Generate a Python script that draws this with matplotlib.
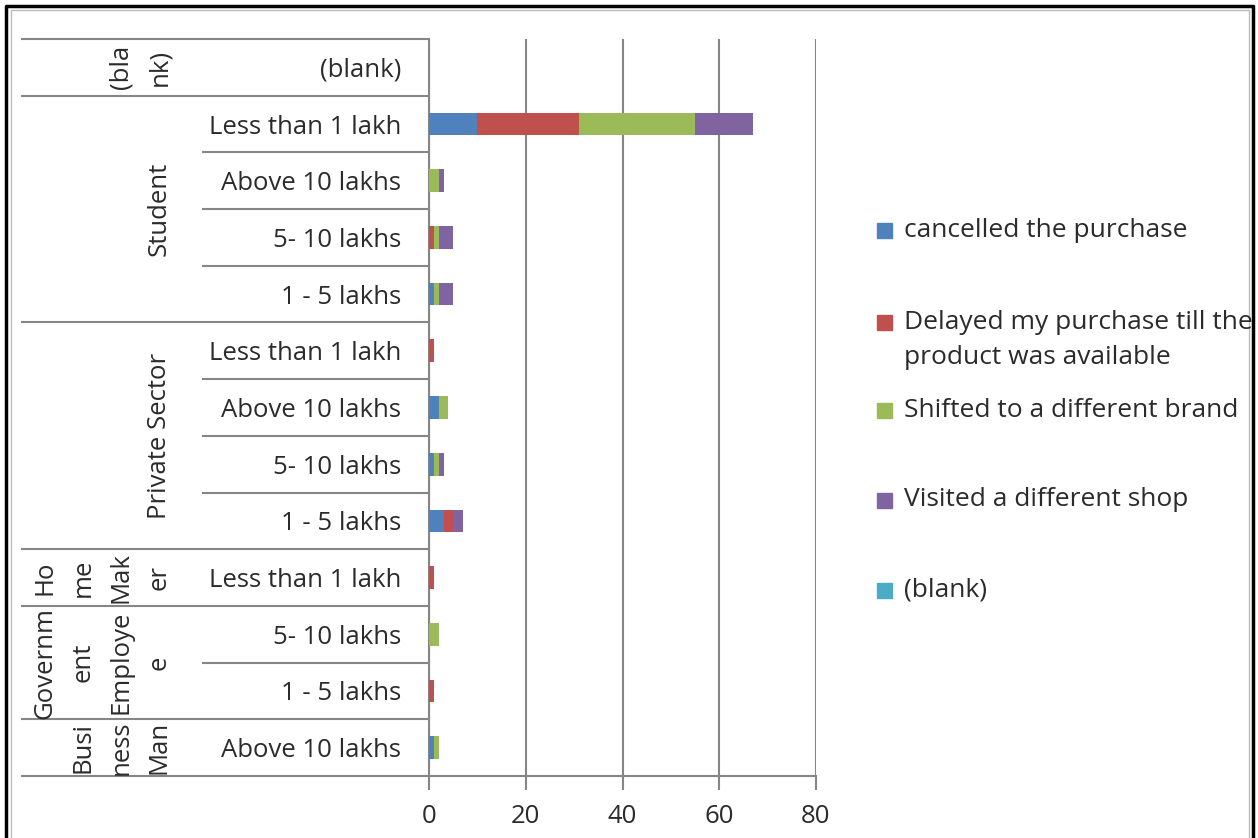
import matplotlib
matplotlib.use("Agg")
import matplotlib.pyplot as plt
import numpy as np
from matplotlib.patches import Rectangle
from matplotlib.lines import Line2D

plt.rcParams['font.family'] = ['Open Sans', 'DejaVu Sans']

# rows listed top to bottom
groups = ["(blank)", "Student", "Private Sector", "Home Maker",
          "Government Employee", "Business Man"]
group_lines = ["(bla\nnk)", "Student", "Private Sector", "Ho\nme\nMak\ner",
               "Governm\nent\nEmploye\ne", "Busi\nness\nMan"]
group_sizes = [1, 4, 4, 1, 2, 1]
incomes = ["(blank)",
           "Less than 1 lakh", "Above 10 lakhs", "5- 10 lakhs", "1 - 5 lakhs",
           "Less than 1 lakh", "Above 10 lakhs", "5- 10 lakhs", "1 - 5 lakhs",
           "Less than 1 lakh",
           "5- 10 lakhs", "1 - 5 lakhs",
           "Above 10 lakhs"]

cancelled = [0, 10, 0, 0, 1, 0, 2, 1, 3, 0, 0, 0, 1]
delayed = [0, 21, 0, 1, 0, 1, 0, 0, 2, 1, 0, 1, 0]
shifted = [0, 24, 2, 1, 1, 0, 2, 1, 0, 0, 2, 0, 1]
visited = [0, 12, 1, 3, 3, 0, 0, 1, 2, 0, 0, 0, 0]
blank = [0] * 13

series_names = ["cancelled the purchase",
                "Delayed my purchase till the\nproduct was available",
                "Shifted to a different brand",
                "Visited a different shop",
                "(blank)"]
series = [cancelled, delayed, shifted, visited, blank]
colors = ["#4F81BD", "#C0504D", "#9BBB59", "#8064A2", "#4BACC6"]

TXT = '#2b2b2b'
FS = 18.5

W, H = 1258, 838
fig = plt.figure(figsize=(W / 100, H / 100), dpi=100)

# plot area in pixels
x0, x1, y0, y1 = 429, 816, 39, 776
ax = fig.add_axes([x0 / W, 1 - y1 / H, (x1 - x0) / W, (y1 - y0) / H])

y = np.arange(len(incomes))
left = np.zeros(len(incomes))
for vals, c in zip(series, colors):
    ax.barh(y, vals, left=left, height=0.4, color=c, zorder=3)
    left += np.array(vals)

ax.set_xlim(0, 80)
ax.set_ylim(len(incomes) - 0.5, -0.5)
ax.set_xticks([0, 20, 40, 60, 80])
ax.tick_params(axis='x', labelsize=FS, colors='#868686', labelcolor=TXT,
               length=10, width=1.5, pad=10)
ax.set_yticks(y)
ax.set_yticklabels(incomes, fontsize=FS, color=TXT)
ax.tick_params(axis='y', length=0, pad=20)
ax.grid(axis='x', color='#868686', linewidth=1.5, zorder=0)
for s in ['top', 'right']:
    ax.spines[s].set_visible(False)
for s in ['left', 'bottom']:
    ax.spines[s].set_color('#868686')
    ax.spines[s].set_linewidth(1.5)

# separator lines between category rows
trans = ax.get_yaxis_transform()
inner_x = (203 - x0) / (x1 - x0)
outer_x = (22 - x0) / (x1 - x0)
label_x = (172 - x0) / (x1 - x0)
start = 0
ax.plot([outer_x, 0], [-0.5, -0.5], color='#868686', lw=1.5,
        transform=trans, clip_on=False)
for text, n in zip(group_lines, group_sizes):
    for k in range(1, n):
        ax.plot([inner_x, 0], [start + k - 0.5] * 2, color='#868686', lw=1.5,
                transform=trans, clip_on=False)
    end = start + n - 0.5
    ax.plot([outer_x, 0], [end, end], color='#868686', lw=1.5,
            transform=trans, clip_on=False)
    ax.text(label_x, start + (n - 1) / 2, text, rotation=90, fontsize=FS,
            color=TXT, ha='right', va='center', linespacing=1.7,
            multialignment='center', transform=trans, clip_on=False)
    start += n

# legend on the right
leg_y = [230, 322, 410, 500, 590]
for name, c, ly in zip(series_names, colors, leg_y):
    fig.patches.append(Rectangle((877 / W, 1 - (ly + 8) / H), 15 / W, 15 / H,
                                 color=c, transform=fig.transFigure))
    if '\n' in name:
        fig.text(904 / W, 1 - (ly + 18) / H, name, fontsize=19, color=TXT,
                 ha='left', va='center', linespacing=1.55,
                 transform=fig.transFigure)
    else:
        fig.text(904 / W, 1 - ly / H, name, fontsize=19, color=TXT,
                 ha='left', va='center', transform=fig.transFigure)

# outer frame
fig.add_artist(Line2D([6 / W, 6 / W, 1253 / W, 1253 / W],
                      [0, 1 - 6 / H, 1 - 6 / H, 0], color='black', lw=2.5))
fig.add_artist(Line2D([11 / W, 11 / W, 1249 / W, 1249 / W],
                      [0, 1 - 10 / H, 1 - 10 / H, 0], color='#bbbbbb', lw=1))

fig.savefig("out.png", dpi=100)
